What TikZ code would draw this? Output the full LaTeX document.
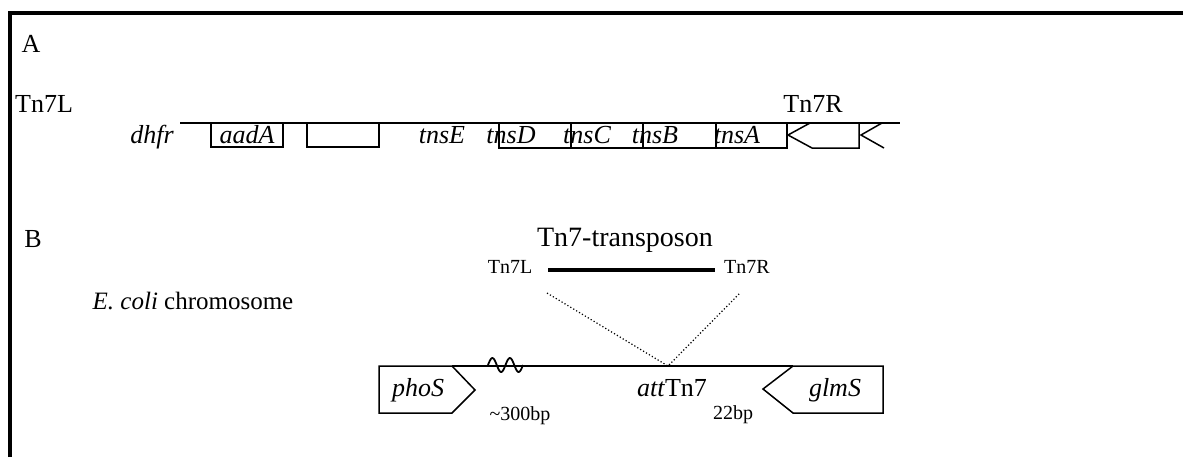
\documentclass[tikz,border=0pt]{standalone}
\usepackage{fontspec}
\setmainfont{Liberation Serif}

\begin{document}
\begin{tikzpicture}[x=0.5pt, y=-0.5pt, line width=0.75pt, line join=miter,
    big/.style={font=\fontsize{13}{15}\selectfont, inner sep=0pt, anchor=base},
    small/.style={font=\fontsize{10}{12}\selectfont, inner sep=0pt, anchor=base},
    gene/.style={font=\fontsize{13}{15}\selectfont\itshape, inner sep=0pt, anchor=base},
    dots/.style={line width=0.6pt, dash pattern=on 0.6pt off 1.1pt}]

    % Fix the page to the reference size
    \useasboundingbox (0,0) rectangle (1183,457);

    % Frame (left and top edges only)
    \draw[line width=2.25pt] (10,457) -- (10,13) -- (1183,13);

    % ---------- Panel A ----------
    \node[big] (labelA) at (31,52) {A};
    \node[big] (AL) at (44,112) {Tn7L};
    \node[big] (AR) at (813,112) {Tn7R};

    % Backbone of the transposon
    \coordinate (Astart) at (180,123);
    \coordinate (Aend) at (900,123);
    \draw (Astart) -- (Aend);

    % Gene boxes
    \draw (211,123) rectangle (283,147);
    \draw (307,123) rectangle (379,147);
    \draw (499,123) rectangle (787,148);
    \foreach \xx in {571, 643, 716}
        \draw (\xx,123) -- (\xx,148);

    % Right end with its two arrow marks
    \draw (810,123) -- (788,135) -- (812,148) -- (859,148) -- (859,123);
    \draw (882,123) -- (861,135) -- (884,148);

    % Gene names
    \node[gene] (dhfr) at (152,143) {dhfr};
    \node[gene] (aadA) at (247,143) {aadA};
    \node[gene] (tnsE) at (442,143) {tnsE};
    \node[gene] (tnsD) at (511,143) {tnsD};
    \node[gene] (tnsC) at (587,143) {tnsC};
    \node[gene] (tnsB) at (655,143) {tnsB};
    \node[gene] (tnsA) at (737,143) {tnsA};

    % ---------- Panel B ----------
    \node[big] (labelB) at (33,247) {B};
    \node[big, font=\fontsize{14}{16}\selectfont] (transposon) at (625,246) {Tn7-transposon};
    \node[small] (BL) at (510,273) {Tn7L};
    \node[small] (BR) at (747,273) {Tn7R};

    \coordinate (TL) at (548,270);
    \coordinate (TR) at (715,270);
    \draw[line width=1.8pt] (TL) -- (TR);

    % Insertion site and the dotted guides
    \coordinate (site) at (668,366);
    \coordinate (dL) at (547,293);
    \coordinate (dR) at (740,293);
    \draw[dots] (dL) -- (site) -- (dR);

    \node[big, font=\fontsize{12.5}{15}\selectfont] (chrom) at (193,309) {\textit{E. coli} chromosome};

    % Chromosome with phoS and glmS
    \draw (452,366) -- (793,366);
    \draw (379,366) -- (452,366) -- (475,390) -- (452,413) -- (379,413) -- cycle;
    \draw (793,366) -- (883,366) -- (883,413) -- (793,413) -- (763,389) -- cycle;

    % Squiggle on the chromosome
    \draw[line width=0.9pt] plot[domain=0:1, samples=40, smooth]
        ({488+35*\x}, {365-7*sin(720*\x)});

    \node[gene] (phoS) at (418,396) {phoS};
    \node[gene] (glmS) at (835,396) {glmS};
    \node[big] (att) at (672,396) {\textit{att}Tn7};
    \node[small] (bp300) at (520,420) {\textasciitilde300bp};
    \node[small] (bp22) at (733,419) {22bp};

\end{tikzpicture}
\end{document}
